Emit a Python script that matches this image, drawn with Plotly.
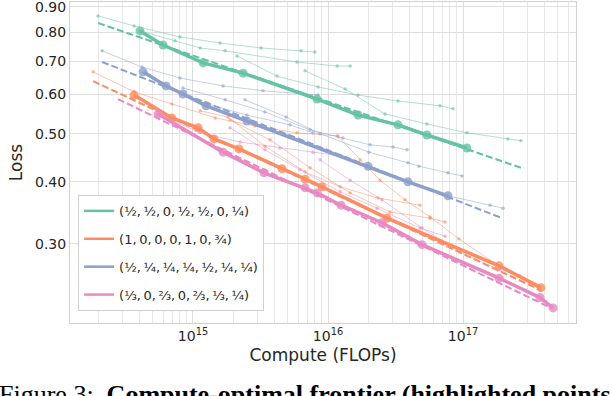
import plotly.graph_objects as go

# Couleurs (palette Set2) et libellés de la légende
colors = ['#66c2a5', '#fc8d62', '#8da0cb', '#e78ac3']
labels = ['(½,\u2009½,\u20090,\u2009½,\u2009½,\u20090,\u2009¼)',
          '(1,\u20090,\u20090,\u20090,\u20091,\u20090,\u2009¾)',
          '(½,\u2009¼,\u2009¼,\u2009¼,\u2009½,\u2009¼,\u2009¼)',
          '(⅓,\u20090,\u2009⅔,\u20090,\u2009⅔,\u2009⅓,\u2009¼)']

# ==== Groupe vert ====
green_front_c = [4.05e14, 6.0e14, 1.19e15, 2.35e15, 8.3e15, 1.67e16, 3.3e16, 5.4e16, 1.07e17]
green_front_l = [0.805, 0.754, 0.694, 0.662, 0.587, 0.545, 0.521, 0.497, 0.468]
green_fit_c = [1.98e14, 2.69e17]
green_fit_l = [0.835, 0.427]
green_runs = [
    ([1.98e14, 3.66e14, 8.0e14, 1.585e15, 3.19e15, 6.31e15, 8.0e15],
     [0.863, 0.824, 0.783, 0.761, 0.744, 0.734, 0.730]),
    ([4.05e14, 7.36e14, 1.13e15, 1.73e15, 5.89e15, 1.17e16, 1.46e16],
     [0.805, 0.769, 0.744, 0.734, 0.697, 0.684, 0.684]),
    ([2.12e15, 4.19e15, 8.43e15, 1.67e16, 3.3e16, 6.76e16, 8.43e16],
     [0.717, 0.653, 0.621, 0.598, 0.582, 0.569, 0.561]),
    ([6.76e15, 1.34e16, 2.64e16, 5.4e16, 1.07e17, 2.15e17, 2.69e17],
     [0.669, 0.615, 0.548, 0.523, 0.502, 0.488, 0.484]),
]

# ==== Groupe orange ====
orange_front_c = [3.66e14, 6.98e14, 1.09e15, 1.43e15, 2.19e15, 4.56e15, 6.76e15, 9.03e15, 2.74e16, 1.85e17, 3.78e17]
orange_front_l = [0.598, 0.538, 0.514, 0.488, 0.466, 0.425, 0.405, 0.391, 0.338, 0.271, 0.245]
orange_fit_c = [1.82e14, 3.78e17]
orange_fit_l = [0.638, 0.242]
orange_runs = [
    ([1.82e14, 3.66e14, 6.98e14, 1.46e15, 2.88e15, 5.89e15, 1.17e16],
     [0.666, 0.607, 0.574, 0.538, 0.518, 0.502, 0.495]),
    ([1.13e15, 1.82e15, 3.41e15, 6.76e15, 1.23e16, 2.35e16, 4.80e16],
     [0.556, 0.540, 0.472, 0.419, 0.391, 0.371, 0.359]),
    ([1.88e15, 3.72e15, 7.36e15, 1.46e16, 2.88e16, 5.70e16, 7.36e16],
     [0.533, 0.486, 0.427, 0.380, 0.348, 0.338, 0.332]),
    ([1.19e16, 1.73e16, 2.43e16, 3.72e16, 5.70e16, 9.33e16, 1.85e17],
     [0.493, 0.443, 0.403, 0.368, 0.340, 0.307, 0.271]),
]

# ==== Groupe bleu ====
blue_front_c = [4.27e14, 6.31e14, 8.43e14, 1.25e15, 2.51e15, 1.98e16, 3.91e16, 7.74e16]
blue_front_l = [0.666, 0.624, 0.601, 0.569, 0.530, 0.430, 0.400, 0.375]
blue_fit_c = [2.12e14, 1.95e17]
blue_fit_l = [0.697, 0.338]
blue_runs = [
    ([2.12e14, 4.19e14, 8.0e14, 1.67e15, 3.30e15, 6.76e15, 8.43e15],
     [0.734, 0.681, 0.647, 0.624, 0.610, 0.601, 0.598]),
    ([8.43e14, 1.73e15, 3.41e15, 7.36e15, 1.29e16, 2.05e16, 3.03e16, 3.85e16],
     [0.618, 0.585, 0.553, 0.509, 0.490, 0.475, 0.470, 0.464]),
    ([2.43e15, 4.89e15, 8.73e15, 2.01e16, 3.91e16, 4.72e16, 7.74e16, 9.84e16],
     [0.585, 0.540, 0.500, 0.459, 0.437, 0.430, 0.417, 0.411]),
    ([8.73e15, 1.98e16, 3.91e16, 7.74e16, 1.585e17, 1.98e17],
     [0.468, 0.430, 0.400, 0.375, 0.359, 0.354]),
    ([8.43e14, 1.25e15, 2.51e15, 5.23e15, 7.74e15],
     [0.601, 0.574, 0.545, 0.521, 0.502]),
]

# ==== Groupe rose ====
pink_front_c = [5.51e14, 1.67e15, 3.36e15, 6.76e15, 8.3e15, 1.25e16, 2.51e16, 4.97e16, 1.85e17, 3.72e17, 4.64e17]
pink_front_l = [0.548, 0.459, 0.417, 0.389, 0.380, 0.359, 0.331, 0.299, 0.256, 0.234, 0.223]
pink_fit_c = [2.78e14, 4.64e17]
pink_fit_l = [0.587, 0.222]
pink_runs = [
    ([5.51e14, 1.13e15, 2.23e15, 4.41e15, 7.74e15, 1.27e16],
     [0.548, 0.502, 0.481, 0.468, 0.459, 0.451]),
    ([1.88e15, 3.41e15, 6.21e15, 1.23e16, 2.31e16, 4.80e16, 7.36e16],
     [0.514, 0.464, 0.423, 0.382, 0.354, 0.323, 0.311]),
    ([8.73e15, 1.46e16, 2.51e16, 4.97e16, 9.5e16, 1.85e17, 2.64e17],
     [0.443, 0.403, 0.368, 0.323, 0.289, 0.266, 0.259]),
]

groups = [
    (green_runs, green_front_c, green_front_l, green_fit_c, green_fit_l),
    (orange_runs, orange_front_c, orange_front_l, orange_fit_c, orange_fit_l),
    (blue_runs, blue_front_c, blue_front_l, blue_fit_c, blue_fit_l),
    (pink_runs, pink_front_c, pink_front_l, pink_fit_c, pink_fit_l),
]

y_ticks = [0.3, 0.4, 0.5, 0.6, 0.7, 0.8, 0.9]
x_major = [1e15, 1e16, 1e17]


def rgba(hex_color, a):
    h = hex_color.lstrip('#')
    return 'rgba(%d,%d,%d,%s)' % (int(h[0:2], 16), int(h[2:4], 16), int(h[4:6], 16), a)


fig = go.Figure()

# courbes individuelles (traits fins)
for (runs, fc, fl, fitc, fitl), col in zip(groups, colors):
    for rc, rl in runs:
        fig.add_trace(go.Scatter(
            x=rc, y=rl, mode='lines+markers',
            line=dict(color=rgba(col, 0.5), width=1),
            marker=dict(color=rgba(col, 0.6), size=3.5),
            showlegend=False, hoverinfo='skip'))

# frontière et ajustement
for (runs, fc, fl, fitc, fitl), col in zip(groups, colors):
    fig.add_trace(go.Scatter(
        x=fitc, y=fitl, mode='lines',
        line=dict(color=col, width=2, dash='7px,3px'),
        showlegend=False, hoverinfo='skip'))
    fig.add_trace(go.Scatter(
        x=fc, y=fl, mode='lines+markers',
        line=dict(color=col, width=3.5),
        marker=dict(color=rgba(col, 0.8), size=9),
        showlegend=False))

# entrées de légende
for i, (col, lab) in enumerate(zip(colors, labels)):
    fig.add_trace(go.Scatter(
        x=[None], y=[None], mode='lines',
        line=dict(color=col, width=2.5),
        name=lab, legendgroup='g%d' % i))

minor_vals = [m * 10 ** e for e in range(14, 18) for m in range(2, 10)]

fig.update_layout(
    width=612, height=396,
    margin=dict(l=70, r=36, t=2, b=73),
    paper_bgcolor='white', plot_bgcolor='white',
    font=dict(family='DejaVu Sans', size=14, color='#262626'),
    xaxis=dict(
        type='log', range=[14.089, 17.837], automargin=False,
        tickmode='array', tickvals=x_major,
        ticktext=['10<sup>15</sup>', '10<sup>16</sup>', '10<sup>17</sup>'],
        ticklabeloverflow='allow',
        showgrid=True, gridcolor='#dedede', gridwidth=1.3,
        minor=dict(tickmode='array', tickvals=minor_vals, showgrid=True,
                   gridcolor='#e8e8e8', gridwidth=0.8, ticks=''),
        showline=True, linecolor='#d0d0d0', mirror=True, ticks='',
        zeroline=False,
        title=dict(text='Compute (FLOPs)', standoff=6),
    ),
    yaxis=dict(
        type='log', range=[-0.682, -0.036], automargin=False,
        tickmode='array', tickvals=y_ticks,
        ticktext=['%.2f' % v for v in y_ticks],
        ticklabeloverflow='allow',
        showgrid=True, gridcolor='#dedede', gridwidth=1.3,
        showline=True, linecolor='#d0d0d0', mirror=True, ticks='',
        zeroline=False,
        title=dict(text='Loss', standoff=8),
    ),
    legend=dict(
        x=0.016, y=0.399, xanchor='left', yanchor='top',
        bgcolor='white', bordercolor='#d0d0d0', borderwidth=1,
        font=dict(size=13), tracegroupgap=8,
    ),
    showlegend=True,
)

# légende de la figure (coupée en bas comme dans l'article)
fig.add_annotation(
    xref='paper', yref='paper', x=-0.145, y=-0.170,
    xanchor='left', yanchor='top', showarrow=False,
    text='Figure 3:  <b>Compute-optimal frontier (highlighted points</b>',
    font=dict(family='Liberation Serif', size=26, color='black'))

# pas de marge autour du graphique dans la page
fig.write_html("out.html", config={'displayModeBar': False},
               post_script="document.body.style.margin='0px';")
